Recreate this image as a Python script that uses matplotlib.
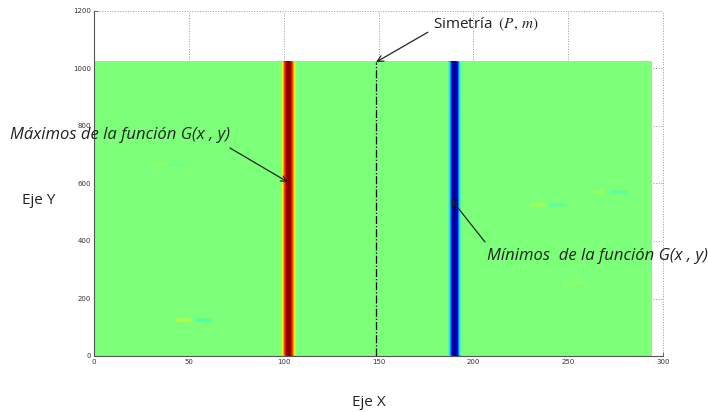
import numpy as np
import matplotlib
matplotlib.use("Agg")
import matplotlib.pyplot as plt

# ---- data ----
img_width = 294          # columns of the G(x, y) image (x units)
img_height = 1024        # rows of the G(x, y) image (y units)
red_center = [102.5, 101.5]     # centre column of maxima at bottom / top
blue_center = [190.0, 189.0]    # centre column of minima at bottom / top
red_profile = [0.3, 0.72, 0.95, 1.0, 0.95, 0.72, 0.3]
blue_profile = [-0.3, -0.75, -1.0, -1.0, -0.75, -0.3]
blob_x0 = [43, 53, 230, 240, 263, 272, 30, 40, 248]
blob_x1 = [51, 62, 238, 248, 268, 281, 38, 48, 258]
blob_y = [125, 125, 525, 525, 570, 570, 664, 664, 254]
blob_val = [0.15, -0.12, 0.12, -0.1, 0.1, -0.1, 0.06, -0.05, 0.06]
sym_x = 148.7
x_ticks = [0, 50, 100, 150, 200, 250, 300]
y_ticks = [0, 200, 400, 600, 800, 1000, 1200]

# ---- build image ----
G = np.zeros((img_height, img_width))
for r in range(img_height):
    f = r / (img_height - 1)
    rc = red_center[0] + (red_center[1] - red_center[0]) * f
    bc = blue_center[0] + (blue_center[1] - blue_center[0]) * f
    s = int(round(rc - (len(red_profile) - 1) / 2))
    G[r, s:s + len(red_profile)] = red_profile
    s = int(round(bc - (len(blue_profile) - 1) / 2))
    G[r, s:s + len(blue_profile)] = blue_profile
for x0, x1, y, v in zip(blob_x0, blob_x1, blob_y, blob_val):
    G[y - 5:y + 5, x0:x1] = v

fig = plt.figure(figsize=(7.08, 4.12), dpi=100)
ax = fig.add_axes([94 / 708, 1 - 356 / 412, (663 - 94) / 708, (356 - 11) / 412])
ax.imshow(G, cmap="jet", vmin=-1, vmax=1, origin="lower",
          extent=[0, img_width, 0, img_height], aspect="auto",
          interpolation="bilinear", zorder=1)
ax.set_xlim(0, 300)
ax.set_ylim(0, 1200)
ax.set_xticks(x_ticks)
ax.set_yticks(y_ticks)
ax.set_axisbelow(True)
ax.grid(True, linestyle=":", color="#999999", linewidth=0.7)
for gl in ax.get_xgridlines() + ax.get_ygridlines():
    gl.set_clip_on(False)
for sp in ["top", "right"]:
    ax.spines[sp].set_visible(False)
for sp in ["left", "bottom"]:
    ax.spines[sp].set_color("#555555")
    ax.spines[sp].set_linewidth(0.8)
ax.tick_params(direction="in", length=3, width=0.6, labelsize=5,
               colors="#555555", labelcolor="#333333", pad=2)

ax.plot([sym_x, sym_x], [0, img_height], linestyle="-.", color="black",
        linewidth=0.9, zorder=3)

txt_font = "Open Sans"
arrow = dict(arrowstyle="->", color="#222222", lw=0.9,
             shrinkA=0, shrinkB=0)

ax.annotate(r"Simetría $\;(P,\,m)$", xy=(sym_x, 1022),
            xytext=(433 / 708, 1 - 24 / 412), textcoords="figure fraction",
            fontsize=11, family=txt_font, color="#222222", va="center",
            ha="left", math_fontfamily="stix",
            arrowprops=dict(arrowstyle="->", color="#222222", lw=0.9,
                            shrinkA=2, shrinkB=0,
                            relpos=(0, 0.2)))

ax.annotate("", xy=(102.2, 605), xytext=(230 / 708, 1 - 148 / 412),
            textcoords="figure fraction", arrowprops=arrow)
fig.text(10 / 708, 1 - 135 / 412, "Máximos de la función G(x , y)",
         fontsize=12, family=txt_font, style="italic", color="#222222",
         va="center", ha="left")

ax.annotate("", xy=(188.2, 546), xytext=(485 / 708, 1 - 242 / 412),
            textcoords="figure fraction", arrowprops=arrow)
fig.text(487 / 708, 1 - 256 / 412, "Mínimos  de la función G(x , y)",
         fontsize=12, family=txt_font, style="italic", color="#222222",
         va="center", ha="left")

fig.text(22 / 708, 1 - 200 / 412, "Eje Y", fontsize=11, family=txt_font,
         color="#222222", va="center", ha="left")
fig.text(352 / 708, 1 - 403 / 412, "Eje X", fontsize=11, family=txt_font,
         color="#222222", va="center", ha="left")

fig.savefig("out.png", dpi=100)
